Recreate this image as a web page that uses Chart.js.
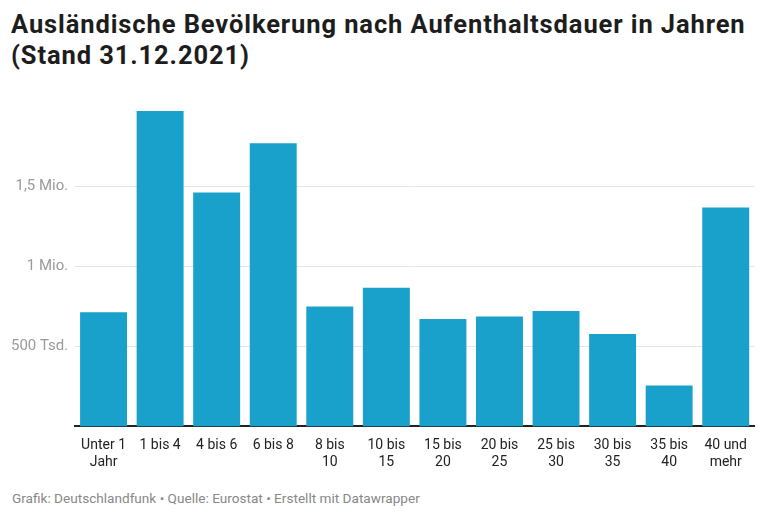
<!DOCTYPE html>
<html>
<head>
<meta charset="utf-8">
<script src="https://cdn.jsdelivr.net/npm/chart.js@4"></script>
<style>
  html,body{margin:0;padding:0;background:#fff;width:768px;height:520px;overflow:hidden;font-family:Roboto,"Noto Sans",sans-serif;}
  #title{position:absolute;left:11px;top:9px;font-size:25.5px;font-weight:700;line-height:31px;color:#1d1d1d;letter-spacing:0.9px;}
  #footer{position:absolute;left:12px;top:490px;font-size:13.6px;color:#888;}
  #wrap{position:absolute;left:0;top:95px;width:768px;height:379px;}
</style>
</head>
<body>
<div id="title">Ausländische Bevölkerung nach Aufenthaltsdauer in Jahren<br>(Stand 31.12.2021)</div>
<div id="wrap"><canvas id="c"></canvas></div>
<div id="footer">Grafik: Deutschlandfunk • Quelle: Eurostat • Erstellt mit Datawrapper</div>
<script>
const categories = [
  ["Unter 1","Jahr"], ["1 bis 4"], ["4 bis 6"], ["6 bis 8"], ["8 bis","10"], ["10 bis","15"],
  ["15 bis","20"], ["20 bis","25"], ["25 bis","30"], ["30 bis","35"], ["35 bis","40"], ["40 und","mehr"]
];
const values = [712000, 1969000, 1460000, 1767000, 748000, 865000, 671000, 686000, 721000, 577000, 256000, 1367000];
const tickValues = [500000, 1000000, 1500000];
const tickLabels = {500000: "500 Tsd.", 1000000: "1 Mio.", 1500000: "1,5 Mio."};

new Chart(document.getElementById('c'), {
  type: 'bar',
  data: {
    labels: categories,
    datasets: [{
      data: values,
      backgroundColor: '#19a1cc',
      borderWidth: 0,
      barPercentage: 0.83,
      categoryPercentage: 1.0
    }]
  },
  options: {
    responsive: true,
    maintainAspectRatio: false,
    animation: false,
    layout: { padding: { left: 4, right: 14, top: 13, bottom: 0 } },
    plugins: { legend: { display: false }, tooltip: { enabled: false } },
    scales: {
      x: {
        grid: { display: false },
        border: { display: true, color: '#222', width: 2 },
        ticks: { color: '#222', font: { family: 'Roboto', size: 14 }, maxRotation: 0, autoSkip: false, padding: 3 }
      },
      y: {
        min: 0,
        max: Math.max(...values),
        afterBuildTicks: (axis) => { axis.ticks = tickValues.map(v => ({ value: v })); },
        grid: { color: '#e4e4e4', drawTicks: false, lineWidth: 1 },
        border: { display: false },
        ticks: {
          color: '#9a9a9a', font: { family: 'Roboto', size: 15 }, padding: 7,
          callback: (v) => tickLabels[v] || ''
        }
      }
    }
  }
});
</script>
</body>
</html>
